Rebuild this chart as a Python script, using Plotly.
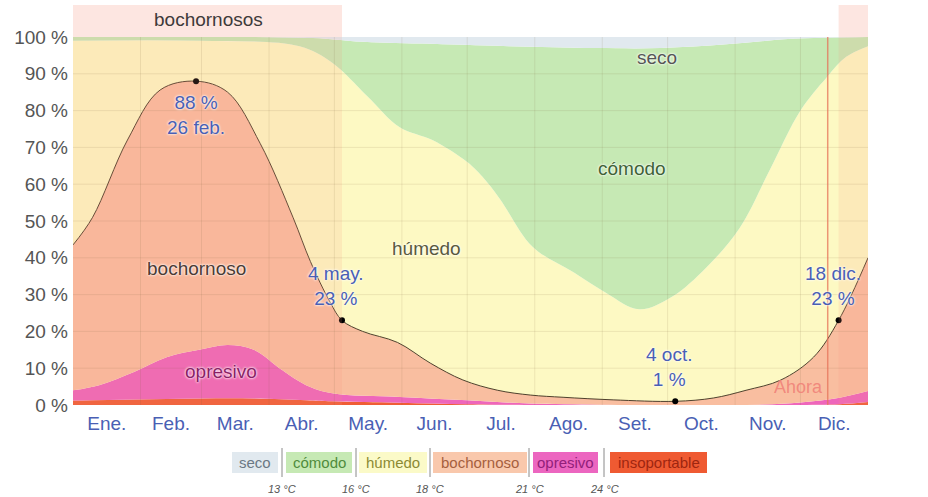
import plotly.graph_objects as go

# ---- calendar ----------------------------------------------------------
meses = ["Ene.", "Feb.", "Mar.", "Abr.", "May.", "Jun.", "Jul.", "Ago.", "Set.", "Oct.", "Nov.", "Dic."]
inicio_mes = [0, 31, 59, 90, 120, 151, 181, 212, 243, 273, 304, 334, 365]

# ---- % of time at each comfort level "or worse" (day of year, %) -------
dias_insop = [0, 28, 58, 83, 107, 119, 150, 181, 210, 330, 352, 365]
pct_insop = [1.2, 1.5, 1.8, 1.8, 1.3, 1.0, 0.6, 0.2, 0.0, 0.0, 0.2, 0.8]

dias_opres = [0, 12, 28, 43, 58, 71, 83, 96, 107, 119, 150, 181, 210, 242, 288, 315, 334, 352, 365]
pct_opres = [4.0, 5.4, 9.0, 13.0, 15.0, 16.3, 15.0, 9.5, 5.4, 3.2, 2.2, 1.3, 0.4, 0.1, 0.0, 0.1, 0.7, 2.0, 3.8]

dias_boch = [0, 9, 25, 40, 56.5, 71, 86, 101, 109, 118, 123.5, 133, 149, 164, 179, 195, 210, 225,
             248, 276.5, 294, 309, 325, 340, 351.5, 365]
pct_boch = [43.5, 51, 72, 85.6, 88, 85, 71, 51, 39, 28, 23, 20, 17, 11.4, 6.8, 4.0, 2.7, 2.1,
            1.4, 1, 1.9, 4.0, 6.8, 13, 23, 40]

dias_hum = [0, 58, 104, 119, 135, 150, 165, 181, 188, 196, 211, 230, 245, 260, 275, 291, 306, 320,
            334, 346, 355, 365]
pct_hum = [99, 99, 97.5, 93, 84, 75.5, 72, 66, 62, 56, 43, 36, 30.4, 26, 29.4, 37.5, 48, 64,
           80, 89, 94.6, 97.5]

dias_seco = [0, 110, 130, 160, 200, 240, 270, 300, 330, 365]
pct_seco = [0, 0.3, 1.2, 1.8, 2.5, 3.0, 3.0, 2.0, 0.5, 0]
pct_comodo_tope = [100 - v for v in pct_seco]

# ---- highlighted points ----------------------------------------------------
puntos_fecha = ["26 feb.", "4 may.", "4 oct.", "18 dic."]
puntos_dia = [56.5, 123.5, 276.5, 351.5]
puntos_pct = [88, 23, 1, 23]

# muggy season (from the 23 % crossings) and today
periodo_bochornoso = [(0, puntos_dia[1]), (puntos_dia[3], 365)]
dia_hoy = 346.5

# ---- legend ------------------------------------------------------------
niveles = ["seco", "cómodo", "húmedo", "bochornoso", "opresivo", "insoportable"]
umbrales = ["13 °C", "16 °C", "18 °C", "21 °C", "24 °C"]

FONT = "Liberation Sans, Arial, sans-serif"
GRIS = "#555555"
AZUL = "#4a5fb4"

L, R, T, B = 73, 60, 37, 92
W, H = 928, 497
PW, PH = W - L - R, H - T - B


def px_x(px):
    return (px - L) / PW


def px_y(py):
    return (H - B - py) / PH


fig = go.Figure()

capas = [
    (dias_insop, pct_insop, "#ef5d35", "tozeroy", 0, None),
    (dias_opres, pct_opres, "#ee66bb", "tonexty", 0, None),
    (dias_boch, pct_boch, "#f9bea0", "tonexty", 1, "rgba(60,45,25,0.9)"),
    (dias_hum, pct_hum, "#fdf9c3", "tonexty", 0, None),
    (dias_seco, pct_comodo_tope, "#c6e9b4", "tonexty", 0, None),
    ([0, 365], [100, 100], "#e1e9ef", "tonexty", 0, None),
]
for xs, ys, color, fill, lw, lc in capas:
    fig.add_trace(go.Scatter(
        x=xs, y=ys, mode="lines", fill=fill, fillcolor=color,
        line=dict(width=lw, color=lc or color, shape="spline", smoothing=1.0),
        hoverinfo="skip",
    ))

fig.add_trace(go.Scatter(
    x=puntos_dia, y=puntos_pct, mode="markers",
    marker=dict(color="black", size=6), hoverinfo="skip",
))

shapes = []
# muggy-season tint across the plot and the band above it
for x0, x1 in periodo_bochornoso:
    shapes.append(dict(type="rect", xref="x", yref="paper", x0=x0, x1=x1, y0=0, y1=1,
                       fillcolor="rgba(245,150,130,0.15)", line_width=0, layer="above"))
    shapes.append(dict(type="rect", xref="x", yref="paper", x0=x0, x1=x1, y0=1, y1=px_y(5),
                       fillcolor="rgba(245,150,130,0.24)", line_width=0, layer="above"))
# grid drawn over the areas
for v in range(10, 100, 10):
    shapes.append(dict(type="line", xref="x", yref="y", x0=0, x1=365, y0=v, y1=v,
                       line=dict(color="rgba(120,100,60,0.13)", width=1), layer="above"))
for d in inicio_mes[1:-1]:
    shapes.append(dict(type="line", xref="x", yref="paper", x0=d, x1=d, y0=0, y1=1,
                       line=dict(color="rgba(120,100,60,0.13)", width=1), layer="above"))
# today
shapes.append(dict(type="line", xref="x", yref="paper", x0=dia_hoy, x1=dia_hoy, y0=0, y1=1,
                   line=dict(color="rgba(230,115,90,0.75)", width=1.5), layer="above"))

anns = []
halo = "0px 0px 3px white, 0px 0px 2px white"
for fecha, dia, pct in zip(puntos_fecha, puntos_dia, puntos_pct):
    if pct > 50:
        txt, dy, dx = f"{pct} %<br>{fecha}", -34, 0
    else:
        txt, dy, dx = f"{fecha}<br>{pct} %", 34, -6
    anns.append(dict(x=dia, y=pct, xref="x", yref="y", text=txt, showarrow=False,
                     xshift=dx, yshift=dy, font=dict(family=FONT, size=19, color=AZUL, shadow=halo)))

etiquetas = [
    ("bochornoso", 56.5, 37, "#4b3a33"),
    ("opresivo", 68, 9.2, "#8a1f66"),
    ("húmedo", 162.5, 42.4, "#5a5a3c"),
    ("cómodo", 256.7, 64.4, "#3e6236"),
    ("seco", 268, 94.3, "#555555"),
]
for txt, x, y, c in etiquetas:
    anns.append(dict(x=x, y=y, xref="x", yref="y", text=txt, showarrow=False,
                     font=dict(family=FONT, size=19, color=c, shadow=halo)))

anns.append(dict(x=333, y=4.9, xref="x", yref="y", text="Ahora", showarrow=False,
                 font=dict(family=FONT, size=18, color="rgba(240,130,120,0.9)")))
anns.append(dict(x=62, y=px_y(20), xref="x", yref="paper", text="bochornosos", showarrow=False,
                 xanchor="center", yanchor="middle",
                 font=dict(family=FONT, size=19, color="#3d3a3a")))

# comfort-level key
estilo_niveles = [
    ("#e1e9ef", "#6b7884", 232, 278),
    ("#c6e9b4", "#4f8c3c", 286, 352),
    ("#fbfac8", "#8c8a34", 359, 427),
    ("#f9c8ac", "#a65f3e", 433, 527),
    ("#ec66c0", "#92207a", 533, 598),
    ("#ef5a32", "#9e2610", 610, 707),
]
for nombre, (bg, fg, x0, x1) in zip(niveles, estilo_niveles):
    shapes.append(dict(type="rect", xref="paper", yref="paper", x0=px_x(x0), x1=px_x(x1),
                       y0=px_y(473), y1=px_y(452), fillcolor=bg, line_width=0, layer="above"))
    anns.append(dict(x=px_x((x0 + x1) / 2), y=px_y(462.5), xref="paper", yref="paper",
                     xanchor="center", yanchor="middle",
                     text=nombre, showarrow=False, font=dict(family=FONT, size=15, color=fg)))
separadores = [282, 356, 430, 529, 604]
for sx, t in zip(separadores, umbrales):
    shapes.append(dict(type="line", xref="paper", yref="paper", x0=px_x(sx), x1=px_x(sx),
                       y0=px_y(477), y1=px_y(448), line=dict(color="rgba(90,90,90,0.7)", width=1)))
    anns.append(dict(x=px_x(sx), y=px_y(489), xref="paper", yref="paper", text=f"<i>{t}</i>",
                     xanchor="center", yanchor="middle",
                     showarrow=False, font=dict(family=FONT, size=11, color="#555555")))

tick_vals = list(range(0, 101, 10))
tick_text = [f"{v} %" for v in tick_vals]
mitad_mes = [(a + b) / 2 for a, b in zip(inicio_mes[:-1], inicio_mes[1:])]

fig.update_layout(
    width=W, height=H,
    margin=dict(l=L, r=R, t=T, b=B),
    paper_bgcolor="white", plot_bgcolor="white",
    showlegend=False,
    shapes=shapes, annotations=anns,
    xaxis=dict(range=[0, 365], tickvals=mitad_mes, ticktext=meses, showgrid=False,
               zeroline=False, ticks="", ticklabelstandoff=5,
               tickfont=dict(family=FONT, size=19, color=AZUL)),
    yaxis=dict(range=[0, 100], tickvals=tick_vals, ticktext=tick_text, showgrid=False,
               zeroline=False, ticks="", ticklabelstandoff=4,
               tickfont=dict(family=FONT, size=19, color=GRIS)),
    yaxis2=dict(range=[0, 100], tickvals=tick_vals, ticktext=tick_text, overlaying="y",
                side="right", showgrid=False, zeroline=False, ticks="", ticklabelstandoff=4,
                tickfont=dict(family=FONT, size=19, color=GRIS)),
)

fig.write_html("out.html")
